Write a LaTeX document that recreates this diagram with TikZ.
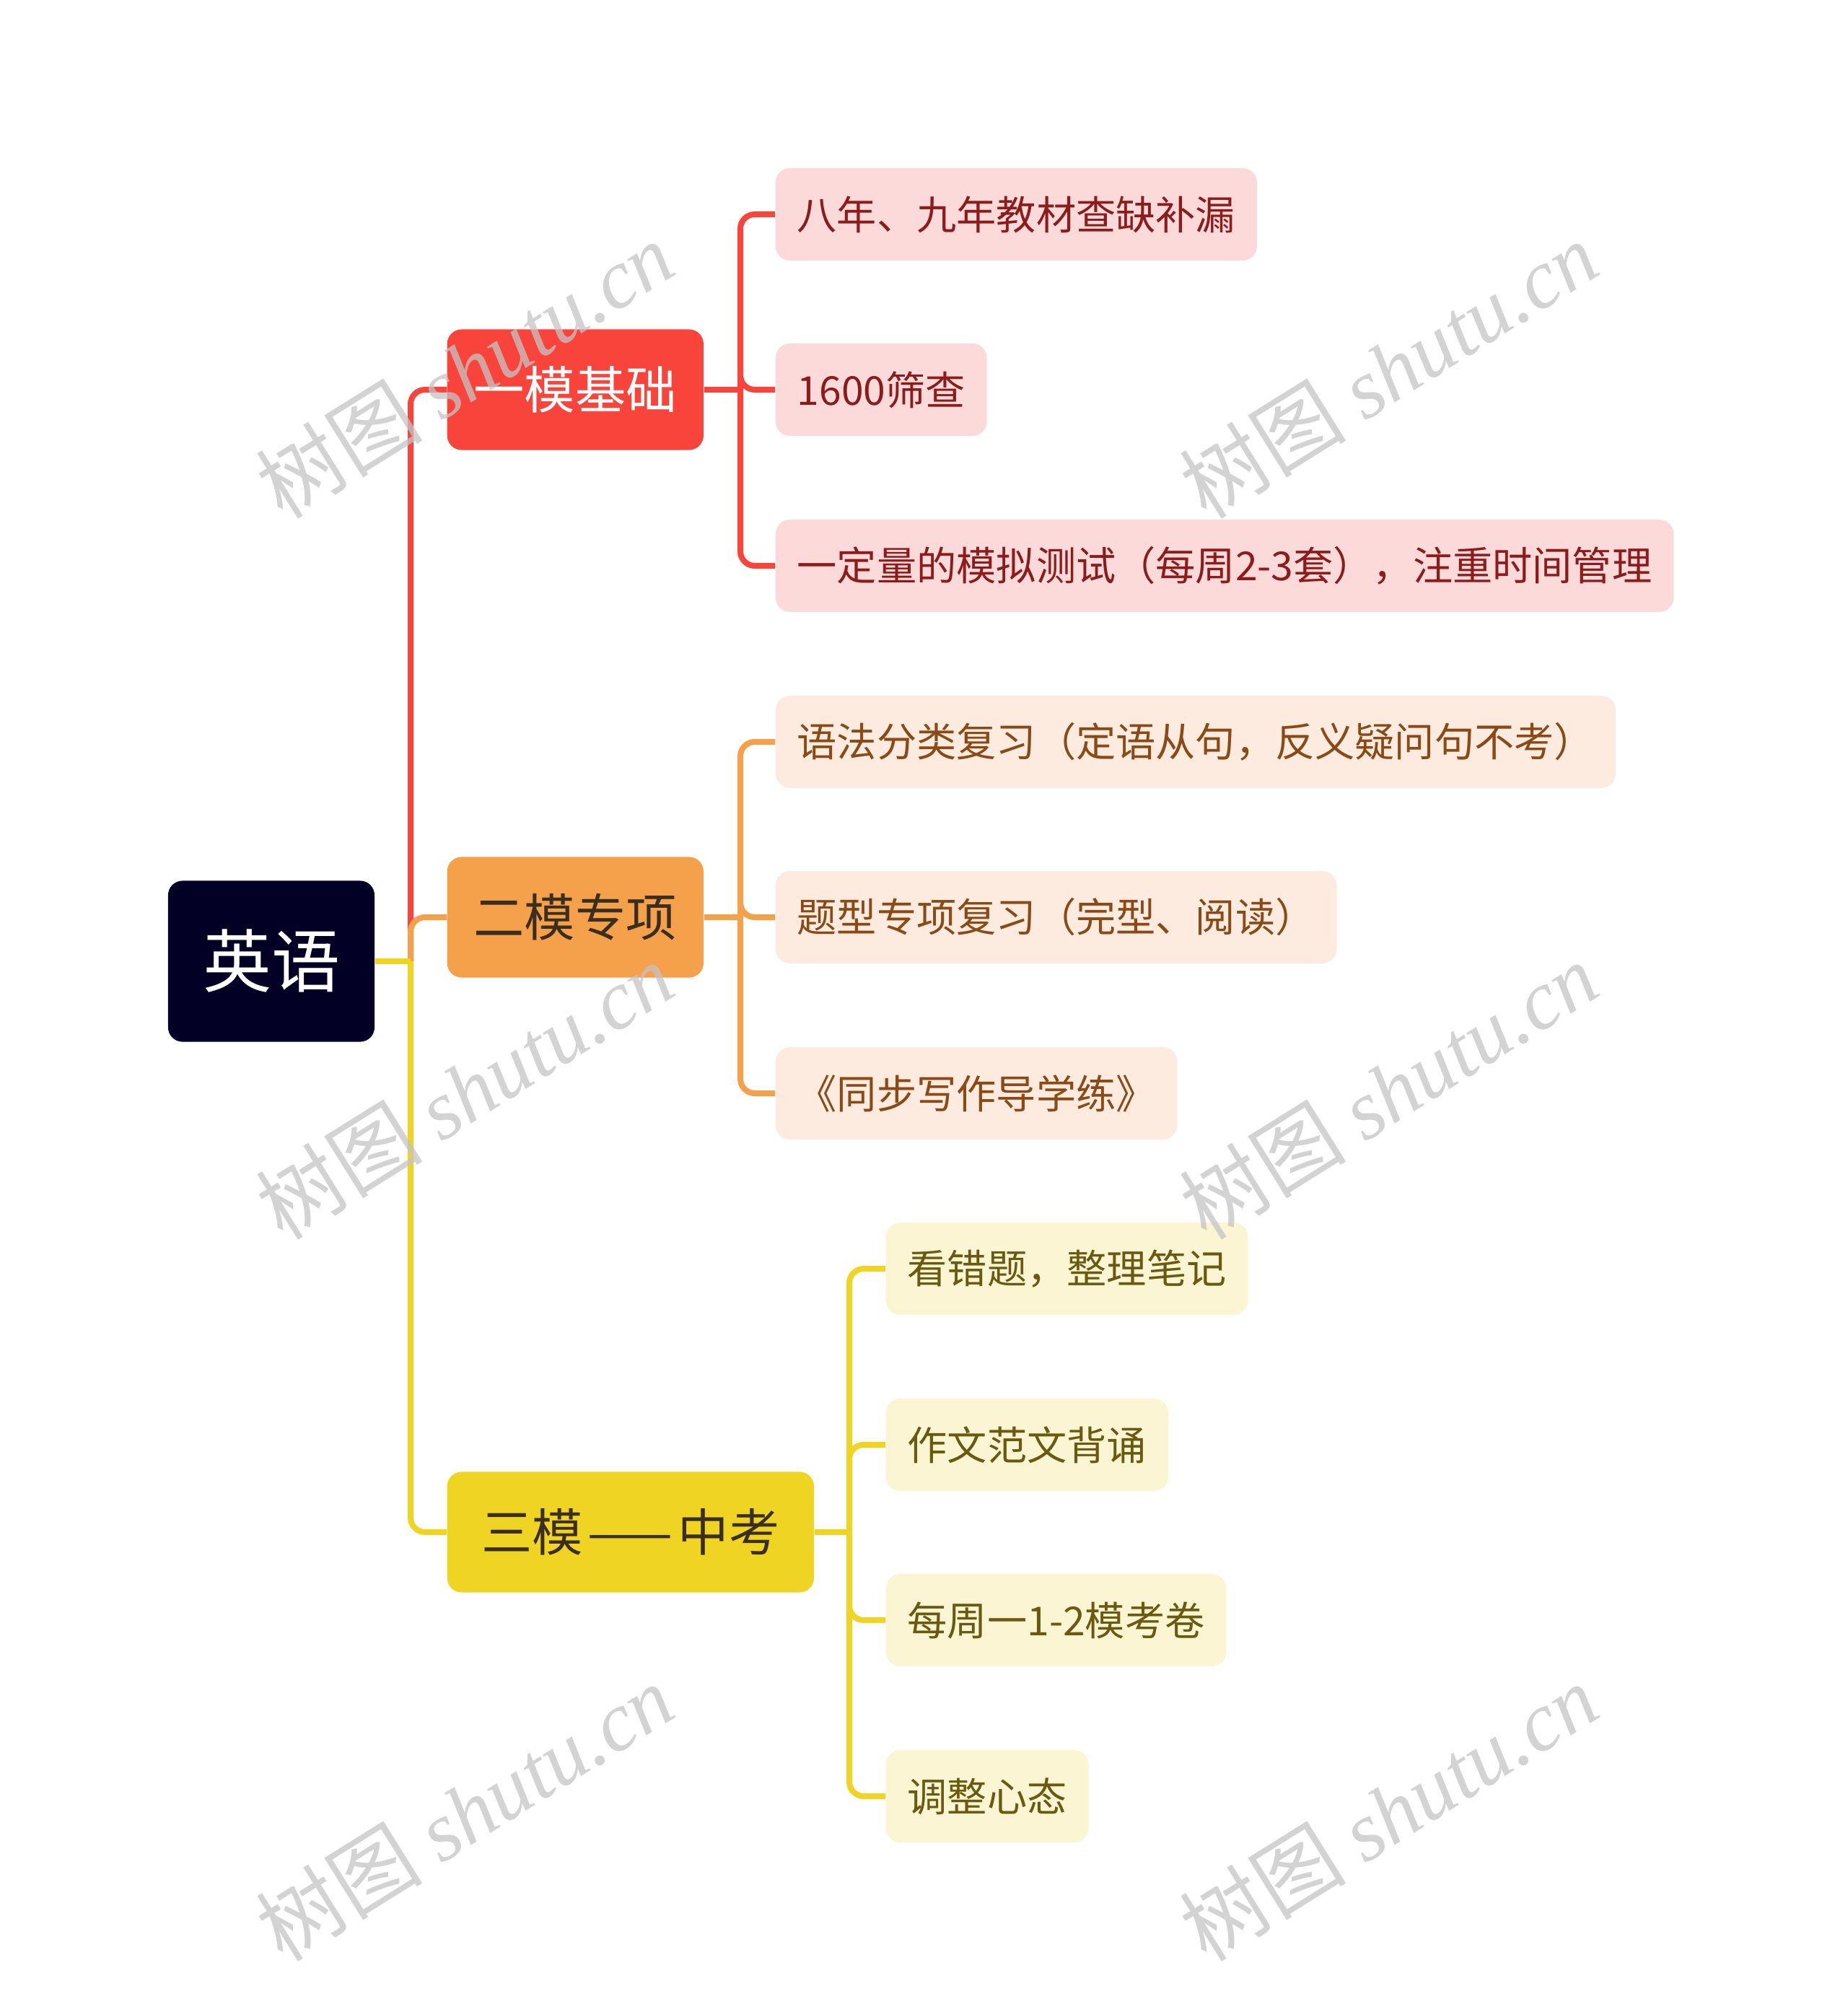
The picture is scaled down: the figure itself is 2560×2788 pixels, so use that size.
\documentclass[tikz,border=0pt]{standalone}
\usepackage{fontspec}
\setmainfont{Noto Sans CJK SC}
\newfontfamily\wmLatin{Liberation Serif}
\usetikzlibrary{positioning, calc}
\definecolor{enNavy}{HTML}{020024}
\definecolor{enRed}{HTML}{F9443C}
\definecolor{enRedLeaf}{HTML}{FDDADA}
\definecolor{enRedText}{HTML}{8C1C1C}
\definecolor{enOrange}{HTML}{F5A04A}
\definecolor{enOrangeLeaf}{HTML}{FDEBDF}
\definecolor{enOrangeText}{HTML}{8A4A16}
\definecolor{enYellow}{HTML}{F0D424}
\definecolor{enYellowLeaf}{HTML}{FBF5D3}
\definecolor{enYellowText}{HTML}{6A5A10}
\definecolor{enDark}{HTML}{3A2E1E}
\definecolor{enMark}{HTML}{C4C4C4}

\tikzset{
	topic/.style={anchor=west, rounded corners=0.2cm, minimum width=3.55cm,
		minimum height=1.67cm, inner sep=0pt, font=\fontsize{20pt}{24pt}\selectfont},
	leaf/.style={anchor=west, rounded corners=0.2cm, inner xsep=0.3cm,
		inner ysep=0pt, minimum height=1.28cm, font=\fontsize{15.7pt}{18pt}\selectfont},
	link/.style={line width=0.08cm, rounded corners=0.2cm},
	wmark/.style={text=enMark, opacity=0.75, rotate=32,
		font=\fontsize{33pt}{38pt}\selectfont}
}

\begin{document}
\begin{tikzpicture}[x=0.01cm, y=-0.01cm]
					\useasboundingbox (0,0) rectangle (2560,2788);
					\node[fill=enNavy, text=white, rounded corners=0.2cm, minimum width=2.86cm,
					minimum height=2.23cm, inner sep=0pt, font=\fontsize{27pt}{30pt}\selectfont]
					(root) at (376,1332) {英语};

					\node[topic, fill=enRed, text=white] (yimo) at (619,540) {一模基础};
					\node[topic, fill=enOrange, text=enDark] (ermo) at (619,1271) {二模专项};
					\node[topic, fill=enYellow, text=enDark, minimum width=5.08cm] (sanmo) at (619,2123) {三模\hspace{2pt}——\hspace{2pt}中考};

					\node[leaf, fill=enRedLeaf, text=enRedText] (a1) at (1074,297) {八年、九年教材查缺补漏};
					\node[leaf, fill=enRedLeaf, text=enRedText] (a2) at (1074,540) {1600筛查};
					\node[leaf, fill=enRedLeaf, text=enRedText] (a3) at (1074,784) {一定量的模拟测试（每周2-3套），注重时间管理};

					\node[leaf, fill=enOrangeLeaf, text=enOrangeText] (b1) at (1074,1028) {语法分类复习（定语从句，反义疑问句不考）};
					\node[leaf, fill=enOrangeLeaf, text=enOrangeText] (b2) at (1074,1271) {题型专项复习（完型、阅读）};
					\node[leaf, fill=enOrangeLeaf, text=enOrangeText] (b3) at (1074,1515) {《同步写作导学练》};

					\node[leaf, fill=enYellowLeaf, text=enYellowText] (c1) at (1227,1758) {看错题，整理笔记};
					\node[leaf, fill=enYellowLeaf, text=enYellowText] (c2) at (1227,2002) {作文范文背诵};
					\node[leaf, fill=enYellowLeaf, text=enYellowText] (c3) at (1227,2245) {每周一1-2模考卷};
					\node[leaf, fill=enYellowLeaf, text=enYellowText] (c4) at (1227,2489) {调整心态};

					\coordinate (trunk) at (569,1332);
					\coordinate (yiBus) at (1026,540);
					\coordinate (erBus) at (1026,1271);
					\coordinate (sanBus) at (1177,2123);

					\draw[link, enRed] (trunk) |- (yimo.west);
					\draw[link, enOrange] (trunk) |- (ermo.west);
					\draw[link, enYellow] (trunk) |- (sanmo.west);
					\draw[link, enYellow] (root.east) -- (trunk);

					\draw[link, enRed] (yimo.east) -- (yiBus);
					\foreach \n in {a1,a2,a3}
						\draw[link, enRed] (yiBus) |- (\n.west);
					\draw[link, enOrange] (ermo.east) -- (erBus);
					\foreach \n in {b1,b2,b3}
						\draw[link, enOrange] (erBus) |- (\n.west);
					\draw[link, enYellow] (sanmo.east) -- (sanBus);
					\foreach \n in {c1,c2,c3,c4}
						\draw[link, enYellow] (sanBus) |- (\n.west);

					\foreach \wx/\wy [count=\i] in {644/512, 1924/512, 644/1511, 1924/1511, 644/2511, 1924/2511}
						\node[wmark] (wm\i) at (\wx,\wy) {树图 {\wmLatin\itshape shutu.cn}};
				\end{tikzpicture}
\end{document}
